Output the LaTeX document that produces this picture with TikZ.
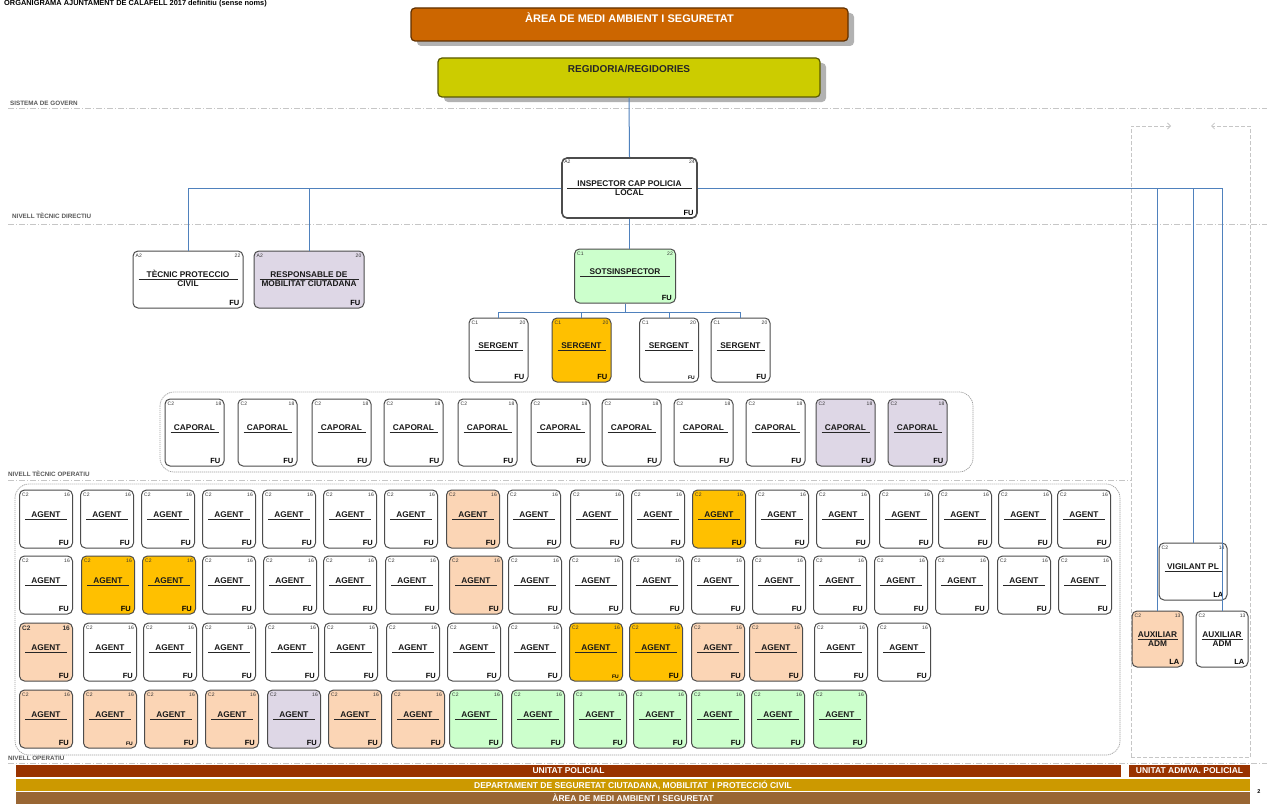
\documentclass[tikz,border=0pt]{standalone}
\usepackage{fontspec}
\setmainfont{Liberation Sans}
\usetikzlibrary{calc, positioning, arrows.meta, shadows}

\definecolor{area-orange}{RGB}{204,102,0}
\definecolor{area-dark}{RGB}{96,48,0}
\definecolor{reg-yellow}{RGB}{204,204,0}
\definecolor{reg-dark}{RGB}{90,90,0}
\definecolor{org-blue}{RGB}{79,129,189}
\definecolor{gold}{RGB}{255,192,0}
\definecolor{peach}{RGB}{251,213,181}
\definecolor{lavender}{RGB}{222,215,230}
\definecolor{mint}{RGB}{204,255,204}
\definecolor{unit-red}{RGB}{153,51,0}
\definecolor{dept-gold}{RGB}{204,153,0}
\definecolor{area-brown}{RGB}{153,102,51}

\tikzset{
    post-box/.style={
        draw=black!70, line width=1pt, rounded corners=5pt, fill=white, inner sep=0pt
    },
    agent-box/.style={post-box, minimum width=53pt, minimum height=58pt},
    caporal-box/.style={post-box, minimum width=59pt, minimum height=67pt},
    sergent-box/.style={post-box, minimum width=59pt, minimum height=64pt},
    grade-text/.style={font=\fontsize{5}{5.5}\selectfont, inner sep=0pt, text=black!80},
    title-text/.style={font=\fontsize{8.3}{9}\selectfont\bfseries, inner sep=0pt, text=black!90},
    type-text/.style={font=\fontsize{7.5}{8}\selectfont\bfseries, inner sep=0pt},
    title-rule/.style={line width=0.9pt, black!85},
    org-line/.style={draw=org-blue, line width=1pt},
    level-line/.style={draw=gray!45, line width=0.6pt, dash pattern=on 6pt off 2pt on 1pt off 2pt},
    level-text/.style={font=\fontsize{6.3}{7}\selectfont\bfseries, text=black!65, inner sep=0pt, anchor=south west},
    group-frame/.style={draw=gray!75, line width=0.7pt, dash pattern=on 1.2pt off 0.8pt, rounded corners=14pt},
    side-frame/.style={draw=gray!45, line width=0.8pt, dash pattern=on 4pt off 2pt},
    bar/.style={inner sep=0pt, text=white, font=\fontsize{8.5}{9}\selectfont\bfseries},
}

% one post of the chart: name, style, centre, group, level, title, 2nd line, type
\newcommand{\orgpost}[8]{%
    \node[#2] (#1) at (#3) {};
    \node[grade-text, anchor=north west] (#1-G) at ($(#1.north west)+(3,3)$) {#4};
    \node[grade-text, anchor=north east] (#1-N) at ($(#1.north east)+(-3,3)$) {#5};
    \draw[title-rule] ($(#1.west)+(6,0)$) -- ($(#1.east)+(-6,0)$);
    \node[title-text, anchor=base] (#1-T) at ($(#1.center)+(0,-2)$) {#6};
    \node[title-text, anchor=north] (#1-S) at ($(#1.center)+(0,1.5)$) {#7};
    \node[type-text, anchor=south east] (#1-F) at ($(#1.south east)+(-4,-3)$) {#8};
}
\newcommand{\smallfu}{{\fontsize{5}{5}\selectfont FU}}

\begin{document}
\begin{tikzpicture}[x=1pt, y=-1pt]

        \useasboundingbox (0,0) rectangle (1267,808);
        \fill[white] (0,0) rectangle (1267,808);

        % TITLE
        \node[font=\fontsize{7.4}{8}\selectfont\bfseries, inner sep=0pt, anchor=west] (TITLE) at (4,4)
            {ORGANIGRAMA AJUNTAMENT DE CALAFELL 2017 definitiu (sense noms)};

        % SISTEMA DE GOVERN
        \node[draw=area-dark, fill=area-orange, line width=1.2pt, rounded corners=4pt,
              minimum width=437pt, minimum height=33pt, inner sep=0pt,
              drop shadow={shadow xshift=6pt, shadow yshift=-5pt, fill=gray!60, opacity=1}]
              (AREA) at (629.5,24.5) {};
        \node[text=white, font=\fontsize{11}{12}\selectfont\bfseries, inner sep=0pt]
              (AREA-T) at ($(AREA.north)+(0,10)$) {ÀREA DE MEDI AMBIENT I SEGURETAT};
        \node[draw=reg-dark, fill=reg-yellow, line width=1.2pt, rounded corners=4pt,
              minimum width=382pt, minimum height=39pt, inner sep=0pt,
              drop shadow={shadow xshift=6pt, shadow yshift=-5pt, fill=gray!60, opacity=1}]
              (REG) at (629,77.5) {};
        \node[text=black!85, font=\fontsize{10}{11}\selectfont\bfseries, inner sep=0pt]
              (REG-T) at ($(REG.north)+(0,12)$) {REGIDORIA/REGIDORIES};

        % LEVELS
        \node[level-text] (L1) at (10,106) {SISTEMA DE GOVERN};
        \draw[level-line] (8,108) -- (1267,108);
        \node[level-text] (L2) at (12,219) {NIVELL TÈCNIC DIRECTIU};
        \draw[level-line] (8,224) -- (1267,224);
        \node[level-text] (L3) at (8,477) {NIVELL TÈCNIC OPERATIU};
        \draw[level-line] (8,480) -- (1131,480);
        \node[level-text] (L4) at (8,761) {NIVELL OPERATIU};
        \draw[level-line] (8,763) -- (1267,763);

        % NIVELL TECNIC DIRECTIU
        \orgpost{INSP}{post-box, line width=1.6pt, minimum width=135pt, minimum height=60pt}{629.5,188}{A2}{24}{INSPECTOR CAP POLICIA}{LOCAL}{FU}
        \orgpost{TEC}{post-box, minimum width=110pt, minimum height=57pt}{188,279.5}{A2}{22}{TÈCNIC PROTECCIO}{CIVIL}{FU}
        \orgpost{RESP}{post-box, fill=lavender, minimum width=110pt, minimum height=57pt}{309,279.5}{A2}{20}{RESPONSABLE DE}{MOBILITAT CIUTADANA}{FU}
        \orgpost{SOTS}{post-box, fill=mint, minimum width=101pt, minimum height=54pt}{625,276}{C1}{22}{SOTSINSPECTOR}{}{FU}

        % SERGENTS
        \orgpost{SERG1}{sergent-box}{498.5,350}{C1}{20}{SERGENT}{}{FU}
        \orgpost{SERG2}{sergent-box, fill=gold}{581.5,350}{C1}{20}{SERGENT}{}{FU}
        \orgpost{SERG3}{sergent-box}{669,350}{C1}{20}{SERGENT}{}{\smallfu}
        \orgpost{SERG4}{sergent-box}{740.5,350}{C1}{20}{SERGENT}{}{FU}

        % CAPORALS
        \draw[group-frame] (160,392) rectangle (973,472);
        \orgpost{CAP1}{caporal-box}{194.5,432.5}{C2}{18}{CAPORAL}{}{FU}
        \orgpost{CAP2}{caporal-box}{267.5,432.5}{C2}{18}{CAPORAL}{}{FU}
        \orgpost{CAP3}{caporal-box}{341.5,432.5}{C2}{18}{CAPORAL}{}{FU}
        \orgpost{CAP4}{caporal-box}{413.5,432.5}{C2}{18}{CAPORAL}{}{FU}
        \orgpost{CAP5}{caporal-box}{487.5,432.5}{C2}{18}{CAPORAL}{}{FU}
        \orgpost{CAP6}{caporal-box}{560.5,432.5}{C2}{18}{CAPORAL}{}{FU}
        \orgpost{CAP7}{caporal-box}{631.5,432.5}{C2}{18}{CAPORAL}{}{FU}
        \orgpost{CAP8}{caporal-box}{703.5,432.5}{C2}{18}{CAPORAL}{}{FU}
        \orgpost{CAP9}{caporal-box}{775.5,432.5}{C2}{18}{CAPORAL}{}{FU}
        \orgpost{CAP10}{caporal-box, fill=lavender}{845.5,432.5}{C2}{18}{CAPORAL}{}{FU}
        \orgpost{CAP11}{caporal-box, fill=lavender}{917.5,432.5}{C2}{18}{CAPORAL}{}{FU}

        % AGENTS
        \draw[group-frame] (15,484) rectangle (1120,755);
        % row 1
        \orgpost{AG1-1}{agent-box}{46,519}{C2}{16}{AGENT}{}{FU}
        \orgpost{AG1-2}{agent-box}{107,519}{C2}{16}{AGENT}{}{FU}
        \orgpost{AG1-3}{agent-box}{168,519}{C2}{16}{AGENT}{}{FU}
        \orgpost{AG1-4}{agent-box}{229,519}{C2}{16}{AGENT}{}{FU}
        \orgpost{AG1-5}{agent-box}{289,519}{C2}{16}{AGENT}{}{FU}
        \orgpost{AG1-6}{agent-box}{350,519}{C2}{16}{AGENT}{}{FU}
        \orgpost{AG1-7}{agent-box}{411,519}{C2}{16}{AGENT}{}{FU}
        \orgpost{AG1-8}{agent-box, fill=peach}{473,519}{C2}{16}{AGENT}{}{FU}
        \orgpost{AG1-9}{agent-box}{534,519}{C2}{16}{AGENT}{}{FU}
        \orgpost{AG1-10}{agent-box}{597,519}{C2}{16}{AGENT}{}{FU}
        \orgpost{AG1-11}{agent-box}{658,519}{C2}{16}{AGENT}{}{FU}
        \orgpost{AG1-12}{agent-box, fill=gold}{719,519}{C2}{16}{AGENT}{}{FU}
        \orgpost{AG1-13}{agent-box}{782,519}{C2}{16}{AGENT}{}{FU}
        \orgpost{AG1-14}{agent-box}{843,519}{C2}{16}{AGENT}{}{FU}
        \orgpost{AG1-15}{agent-box}{906,519}{C2}{16}{AGENT}{}{FU}
        \orgpost{AG1-16}{agent-box}{965,519}{C2}{16}{AGENT}{}{FU}
        \orgpost{AG1-17}{agent-box}{1025,519}{C2}{16}{AGENT}{}{FU}
        \orgpost{AG1-18}{agent-box}{1084,519}{C2}{16}{AGENT}{}{FU}
        % row 2
        \orgpost{AG2-1}{agent-box}{46,585}{C2}{16}{AGENT}{}{FU}
        \orgpost{AG2-2}{agent-box, fill=gold}{108,585}{C2}{16}{AGENT}{}{FU}
        \orgpost{AG2-3}{agent-box, fill=gold}{169,585}{C2}{16}{AGENT}{}{FU}
        \orgpost{AG2-4}{agent-box}{229,585}{C2}{16}{AGENT}{}{FU}
        \orgpost{AG2-5}{agent-box}{290,585}{C2}{16}{AGENT}{}{FU}
        \orgpost{AG2-6}{agent-box}{350,585}{C2}{16}{AGENT}{}{FU}
        \orgpost{AG2-7}{agent-box}{412,585}{C2}{16}{AGENT}{}{FU}
        \orgpost{AG2-8}{agent-box, fill=peach}{476,585}{C2}{16}{AGENT}{}{FU}
        \orgpost{AG2-9}{agent-box}{535,585}{C2}{16}{AGENT}{}{FU}
        \orgpost{AG2-10}{agent-box}{596,585}{C2}{16}{AGENT}{}{FU}
        \orgpost{AG2-11}{agent-box}{657,585}{C2}{16}{AGENT}{}{FU}
        \orgpost{AG2-12}{agent-box}{718,585}{C2}{16}{AGENT}{}{FU}
        \orgpost{AG2-13}{agent-box}{779,585}{C2}{16}{AGENT}{}{FU}
        \orgpost{AG2-14}{agent-box}{840,585}{C2}{16}{AGENT}{}{FU}
        \orgpost{AG2-15}{agent-box}{901,585}{C2}{16}{AGENT}{}{FU}
        \orgpost{AG2-16}{agent-box}{962,585}{C2}{16}{AGENT}{}{FU}
        \orgpost{AG2-17}{agent-box}{1024,585}{C2}{16}{AGENT}{}{FU}
        \orgpost{AG2-18}{agent-box}{1085,585}{C2}{16}{AGENT}{}{FU}
        % row 3
        \orgpost{AG3-1}{agent-box, fill=peach}{46,652}{\textbf{\fontsize{6.5}{6.5}\selectfont C2}}{\textbf{\fontsize{6.5}{6.5}\selectfont 16}}{AGENT}{}{FU}
        \orgpost{AG3-2}{agent-box}{110,652}{C2}{16}{AGENT}{}{FU}
        \orgpost{AG3-3}{agent-box}{170,652}{C2}{16}{AGENT}{}{FU}
        \orgpost{AG3-4}{agent-box}{229,652}{C2}{16}{AGENT}{}{FU}
        \orgpost{AG3-5}{agent-box}{292,652}{C2}{16}{AGENT}{}{FU}
        \orgpost{AG3-6}{agent-box}{351,652}{C2}{16}{AGENT}{}{FU}
        \orgpost{AG3-7}{agent-box}{413,652}{C2}{16}{AGENT}{}{FU}
        \orgpost{AG3-8}{agent-box}{474,652}{C2}{16}{AGENT}{}{FU}
        \orgpost{AG3-9}{agent-box}{535,652}{C2}{16}{AGENT}{}{FU}
        \orgpost{AG3-10}{agent-box, fill=gold}{596,652}{C2}{16}{AGENT}{}{\smallfu}
        \orgpost{AG3-11}{agent-box, fill=gold}{656,652}{C2}{16}{AGENT}{}{FU}
        \orgpost{AG3-12}{agent-box, fill=peach}{718,652}{C2}{16}{AGENT}{}{FU}
        \orgpost{AG3-13}{agent-box, fill=peach}{776,652}{C2}{16}{AGENT}{}{FU}
        \orgpost{AG3-14}{agent-box}{841,652}{C2}{16}{AGENT}{}{FU}
        \orgpost{AG3-15}{agent-box}{904,652}{C2}{16}{AGENT}{}{FU}
        % row 4
        \orgpost{AG4-1}{agent-box, fill=peach}{46,719}{C2}{16}{AGENT}{}{FU}
        \orgpost{AG4-2}{agent-box, fill=peach}{110,719}{C2}{16}{AGENT}{}{\smallfu}
        \orgpost{AG4-3}{agent-box, fill=peach}{171,719}{C2}{16}{AGENT}{}{FU}
        \orgpost{AG4-4}{agent-box, fill=peach}{232,719}{C2}{16}{AGENT}{}{FU}
        \orgpost{AG4-5}{agent-box, fill=lavender}{294,719}{C2}{16}{AGENT}{}{FU}
        \orgpost{AG4-6}{agent-box, fill=peach}{355,719}{C2}{16}{AGENT}{}{FU}
        \orgpost{AG4-7}{agent-box, fill=peach}{418,719}{C2}{16}{AGENT}{}{FU}
        \orgpost{AG4-8}{agent-box, fill=mint}{476,719}{C2}{16}{AGENT}{}{FU}
        \orgpost{AG4-9}{agent-box, fill=mint}{538,719}{C2}{16}{AGENT}{}{FU}
        \orgpost{AG4-10}{agent-box, fill=mint}{600,719}{C2}{16}{AGENT}{}{FU}
        \orgpost{AG4-11}{agent-box, fill=mint}{660,719}{C2}{16}{AGENT}{}{FU}
        \orgpost{AG4-12}{agent-box, fill=mint}{718,719}{C2}{16}{AGENT}{}{FU}
        \orgpost{AG4-13}{agent-box, fill=mint}{778,719}{C2}{16}{AGENT}{}{FU}
        \orgpost{AG4-14}{agent-box, fill=mint}{840,719}{C2}{16}{AGENT}{}{FU}

        % UNITAT ADMINISTRATIVA
        \draw[side-frame, -{Straight Barb[length=3pt]}] (1131,757) -- (1131,126) -- (1171,126);
        \draw[side-frame, -{Straight Barb[length=3pt]}] (1250,757) -- (1250,126) -- (1211,126);
        \draw[side-frame] (1131,757) -- (1250,757);
        \orgpost{VIG}{post-box, minimum width=68pt, minimum height=57pt}{1193,571.5}{C2}{14}{VIGILANT PL}{}{LA}
        \orgpost{AUX1}{post-box, fill=peach, minimum width=51pt, minimum height=56pt}{1157.5,639}{C2}{13}{AUXILIAR}{ADM}{LA}
        \orgpost{AUX2}{post-box, minimum width=52pt, minimum height=56pt}{1222,639}{C2}{13}{AUXILIAR}{ADM}{LA}

        % CONNECTIONS
        \draw[org-line] (REG.south) -- (INSP.north);
        \draw[org-line] (INSP.west) -| (TEC.north);
        \draw[org-line] (RESP.north) |- (INSP.west);
        \draw[org-line] (INSP.east) -| (AUX2.north);
        \draw[org-line] (AUX1.north) |- (INSP.east);
        \draw[org-line] (VIG.north) |- (INSP.east);
        \draw[org-line] (INSP.south) -- (INSP.south |- SOTS.north);
        \coordinate (SBUS) at ($(SOTS.south)+(0,9)$);
        \draw[org-line] (SOTS.south) -- (SBUS);
        \draw[org-line] (SERG1.north) |- (SBUS) -| (SERG4.north);
        \draw[org-line] (SERG2.north) |- (SBUS);
        \draw[org-line] (SERG3.north) |- (SBUS);

        % UNITS
        \node[bar, fill=unit-red, minimum width=1105pt, minimum height=12pt] (UPOL) at (568.5,771) {UNITAT POLICIAL};
        \node[bar, fill=unit-red, minimum width=121pt, minimum height=12pt] (UADM) at (1189.5,771) {UNITAT ADMVA. POLICIAL};
        \node[bar, fill=dept-gold, minimum width=1234pt, minimum height=12.5pt] (DEPT) at (633,785) {DEPARTAMENT DE SEGURETAT CIUTADANA, MOBILITAT \ I PROTECCIÓ CIVIL};
        \node[bar, fill=area-brown, minimum width=1234pt, minimum height=12.5pt] (AREA2) at (633,798) {ÀREA DE MEDI AMBIENT I SEGURETAT};
        \node[font=\fontsize{5.5}{6}\selectfont\bfseries, inner sep=0pt] (PAGE) at (1259,792) {2};

    \end{tikzpicture}
\end{document}
